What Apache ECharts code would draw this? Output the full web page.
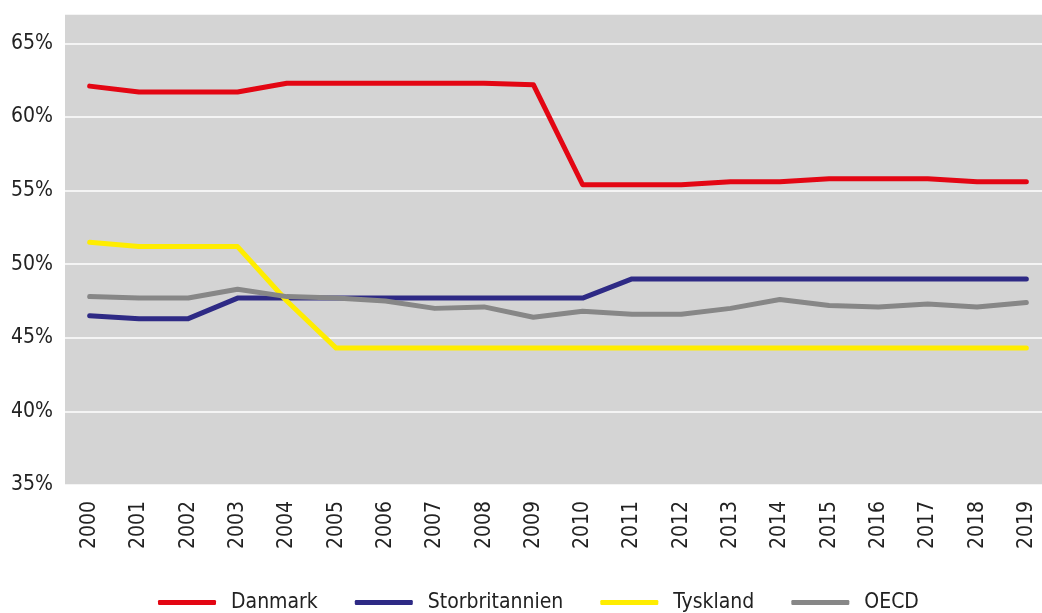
<!DOCTYPE html>
<html>
<head>
<meta charset="utf-8">
<script src="https://cdn.jsdelivr.net/npm/echarts@6/dist/echarts.min.js"></script>
<style>
  html, body {margin: 0; padding: 0; background: #fff;}
  #chart {width: 1042px; height: 613px;}
</style>
</head>
<body>
<div id="chart"></div>
<script>
const years = ['2000', '2001', '2002', '2003', '2004', '2005', '2006', '2007', '2008', '2009',
  '2010', '2011', '2012', '2013', '2014', '2015', '2016', '2017', '2018', '2019'];

const danmark = [62.1, 61.7, 61.7, 61.7, 62.3, 62.3, 62.3, 62.3, 62.3, 62.2,
  55.4, 55.4, 55.4, 55.6, 55.6, 55.8, 55.8, 55.8, 55.6, 55.6];
const storbritannien = [46.5, 46.3, 46.3, 47.7, 47.7, 47.7, 47.7, 47.7, 47.7, 47.7,
  47.7, 49.0, 49.0, 49.0, 49.0, 49.0, 49.0, 49.0, 49.0, 49.0];
const tyskland = [51.5, 51.2, 51.2, 51.2, 47.5, 44.3, 44.3, 44.3, 44.3, 44.3,
  44.3, 44.3, 44.3, 44.3, 44.3, 44.3, 44.3, 44.3, 44.3, 44.3];
const oecd = [47.8, 47.7, 47.7, 48.3, 47.8, 47.7, 47.5, 47.0, 47.1, 46.4,
  46.8, 46.6, 46.6, 47.0, 47.6, 47.2, 47.1, 47.3, 47.1, 47.4];

const FONT = "'Liberation Sans Narrow', 'DejaVu Sans Condensed', sans-serif";

function line(name, data, color) {
  return {
    name: name,
    type: 'line',
    data: data,
    symbol: 'none',
    lineStyle: {width: 5, color: color, cap: 'round', join: 'round'},
    itemStyle: {color: color}
  };
}

const chart = echarts.init(document.getElementById('chart'));
chart.setOption({
  animation: false,
  textStyle: {fontFamily: FONT},
  grid: {
    left: 65, top: 14, width: 986, height: 471,
    outerBoundsMode: 'none', containLabel: false,
    backgroundColor: '#d4d4d4', show: true, borderWidth: 0
  },
  legend: {
    bottom: -5,
    left: 153,
    itemWidth: 58,
    itemHeight: 5,
    itemGap: 37,
    icon: 'roundRect',
    textStyle: {fontFamily: FONT, fontSize: 21, color: '#222', padding: [0, 0, 0, 10]},
    data: ['Danmark', 'Storbritannien', 'Tyskland', 'OECD']
  },
  xAxis: {
    type: 'category',
    data: years,
    boundaryGap: true,
    axisLine: {show: false},
    axisTick: {show: false},
    axisLabel: {rotate: 90, fontSize: 21, color: '#222', margin: 16, fontFamily: FONT}
  },
  yAxis: {
    type: 'value',
    min: 35,
    max: 67,
    interval: 5,
    axisLine: {show: false},
    axisTick: {show: false},
    splitLine: {lineStyle: {color: '#ffffff', width: 1.5}},
    axisLabel: {
      showMaxLabel: false,
      fontSize: 21, color: '#222', margin: 12, fontFamily: FONT,
      formatter: v => v + '%'
    }
  },
  series: [
    line('Danmark', danmark, '#e30613'),
    line('Storbritannien', storbritannien, '#2e2a85'),
    line('Tyskland', tyskland, '#ffed00'),
    line('OECD', oecd, '#878787')
  ]
});
</script>
</body>
</html>
